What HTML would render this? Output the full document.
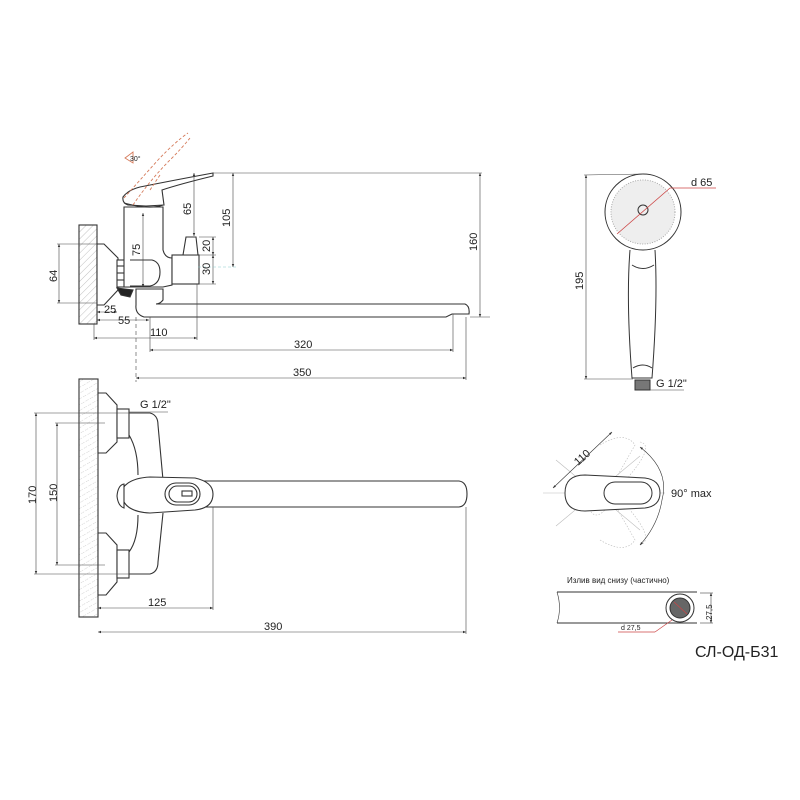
<!DOCTYPE html>
<html><head><meta charset="utf-8"><style>
html,body{margin:0;padding:0;background:#fff}
svg{display:block}
text{font-family:"Liberation Sans","DejaVu Sans",sans-serif;fill:#222}
</style></head><body>
<svg width="800" height="800" viewBox="0 0 800 800" xmlns="http://www.w3.org/2000/svg">
<defs>
<pattern id="h" width="5" height="5" patternUnits="userSpaceOnUse" patternTransform="rotate(45)">
<line x1="0" y1="0" x2="0" y2="5" stroke="#999" stroke-width="0.6"/></pattern>
<pattern id="h2" width="5" height="5" patternUnits="userSpaceOnUse" patternTransform="rotate(60)">
<line x1="0" y1="0" x2="0" y2="5" stroke="#aaa" stroke-width="0.6" stroke-dasharray="1.5 1.5"/></pattern>
<marker id="a" markerWidth="6" markerHeight="6" refX="5" refY="3" orient="auto-start-reverse"><path d="M0,1 L5,3 L0,5z" fill="#333"/></marker>
</defs>
<g stroke="#333" fill="none" stroke-width="1.1">
<!-- SIDE VIEW -->
<rect x="79" y="225" width="18" height="99" fill="url(#h)"/>
<polygon points="97,244 104,244 118,258 118,290 104,305 97,305" fill="#fff"/>
<rect x="117" y="260" width="13" height="27" fill="#fff"/>
<line x1="117" y1="266" x2="130" y2="266"/><line x1="117" y1="273" x2="130" y2="273"/><line x1="117" y1="280" x2="130" y2="280"/>
<polygon points="117,288 133,290 130,297 121,295" fill="#222"/>
<path d="M124,207 L163,207 L163,250 Q165,258 172,258 L172,285 L163,287 L124,287 Z" fill="#fff"/>
<path d="M130,260 L152,260 Q160,262 160,272 Q160,284 150,286 L130,286" fill="#fff"/>
<rect x="172" y="255" width="27" height="29" fill="#fff"/>
<polygon points="186,237 196,237 198,255 183,255" fill="#fff"/>
<path d="M136,289 L163,289 L163,300 Q160,304 156,304 L465,304 Q470,306 469,314 L452,314 L446,317 L144,317 Q135,314 136,305 Z" fill="#fff"/>
<line x1="156" y1="304" x2="465" y2="304"/>
<path d="M123,197 Q128,190 140,187 Q175,180 213,173 L213,176 Q180,184 162,190 L164,205 L146,206 L128,205 Q122,203 123,197 Z" fill="#fff"/>
<path d="M124,203 Q150,210 163,205" />
</g>
<g stroke="#d57a5a" fill="none" stroke-width="0.9" stroke-dasharray="3 2">
<path d="M124,198 Q140,180 158,160 Q175,142 188,133"/>
<path d="M133,205 Q150,180 170,160 Q182,148 190,138"/>
<path d="M150,190 L160,175"/>
<path d="M125,158 L133,152 L133,163 Z" stroke-dasharray="none"/>
</g>
<text x="130" y="161" font-size="7">30°</text>
<g stroke="#444" fill="none" stroke-width="0.6">
<line x1="213" y1="173" x2="482" y2="173"/>
<line x1="57" y1="244" x2="97" y2="244"/><line x1="57" y1="303" x2="97" y2="303"/>
<line x1="59" y1="244" x2="59" y2="303" marker-start="url(#a)" marker-end="url(#a)"/>
<line x1="143" y1="213" x2="143" y2="287" marker-start="url(#a)" marker-end="url(#a)"/>
<line x1="194" y1="173" x2="194" y2="236" marker-start="url(#a)" marker-end="url(#a)"/>
<line x1="233" y1="173" x2="233" y2="267" marker-start="url(#a)" marker-end="url(#a)"/>
<line x1="199" y1="237" x2="216" y2="237"/><line x1="199" y1="255" x2="216" y2="255"/><line x1="199" y1="284" x2="216" y2="284"/>
<line x1="213" y1="237" x2="213" y2="255" marker-start="url(#a)" marker-end="url(#a)"/>
<line x1="213" y1="255" x2="213" y2="284" marker-start="url(#a)" marker-end="url(#a)"/>
<line x1="198" y1="267" x2="236" y2="267" stroke="#8cc" stroke-dasharray="3 2"/>
<line x1="470" y1="317" x2="490" y2="317"/>
<line x1="480" y1="173" x2="480" y2="317" marker-start="url(#a)" marker-end="url(#a)"/>
<line x1="97" y1="312" x2="117" y2="312" marker-start="url(#a)" marker-end="url(#a)"/>
<line x1="97" y1="320" x2="149" y2="320" marker-start="url(#a)" marker-end="url(#a)"/>
<line x1="94" y1="338" x2="197" y2="338" marker-start="url(#a)" marker-end="url(#a)"/>
<line x1="150" y1="350" x2="453" y2="350" marker-start="url(#a)" marker-end="url(#a)"/>
<line x1="136" y1="378" x2="466" y2="378" marker-start="url(#a)" marker-end="url(#a)"/>
<line x1="94" y1="324" x2="94" y2="340"/><line x1="150" y1="317" x2="150" y2="352"/>
<line x1="197" y1="284" x2="197" y2="340"/><line x1="453" y1="314" x2="453" y2="352"/><line x1="466" y1="317" x2="466" y2="380"/>
<line x1="136" y1="317" x2="136" y2="382" stroke-dasharray="4 3"/>
</g>
<g font-size="11">
<text x="0" y="0" transform="translate(57,282) rotate(-90)">64</text>
<text x="0" y="0" transform="translate(140,256) rotate(-90)">75</text>
<text x="0" y="0" transform="translate(191,215) rotate(-90)">65</text>
<text x="0" y="0" transform="translate(230,227) rotate(-90)">105</text>
<text x="0" y="0" transform="translate(210,252) rotate(-90)">20</text>
<text x="0" y="0" transform="translate(210,275) rotate(-90)">30</text>
<text x="0" y="0" transform="translate(477,251) rotate(-90)">160</text>
<text x="104" y="313">25</text><text x="118" y="324">55</text>
<text x="150" y="336">110</text><text x="294" y="348">320</text><text x="293" y="376">350</text>
</g>
<!-- TOP VIEW -->
<g stroke="#333" fill="none" stroke-width="1.1">
<rect x="79" y="379" width="19" height="238" fill="url(#h2)"/>
<polygon points="98,393 106,393 117,405 117,442 106,453 98,453" fill="#fff"/>
<polygon points="98,533 106,533 117,545 117,582 106,595 98,595" fill="#fff"/>
<rect x="117" y="409" width="12" height="29" fill="#fff"/>
<rect x="117" y="550" width="12" height="28" fill="#fff"/>
<path d="M129,413 L150,413 Q158,415 158,425 L163,480"/>
<path d="M129,435 Q138,450 138,475"/>
<path d="M129,574 L150,574 Q158,572 158,562 L163,513"/>
<path d="M129,552 Q138,540 138,515"/>
<path d="M200,481 L459,481 Q467,482 467,494 Q467,506 459,507 L200,507"/>
<path d="M123,488 Q130,478 150,477 L195,478 Q213,482 213,494 Q213,508 195,510 L150,513 Q128,512 123,500 Z" fill="#fff"/>
<path d="M117,496 Q118,485 124,484 L124,508 Q118,506 117,496 Z" fill="#fff"/>
<rect x="165" y="483" width="35" height="22" rx="11" fill="#fff"/>
<rect x="169" y="486" width="28" height="16" rx="8"/>
<rect x="182" y="491" width="10" height="5"/>
</g>
<g stroke="#444" fill="none" stroke-width="0.6">
<line x1="34" y1="413" x2="130" y2="413"/><line x1="34" y1="574" x2="130" y2="574"/>
<line x1="55" y1="423" x2="105" y2="423"/><line x1="55" y1="565" x2="105" y2="565"/>
<line x1="129" y1="412" x2="168" y2="412"/>
<line x1="36" y1="413" x2="36" y2="574" marker-start="url(#a)" marker-end="url(#a)"/>
<line x1="57" y1="423" x2="57" y2="565" marker-start="url(#a)" marker-end="url(#a)"/>
<line x1="98" y1="608" x2="213" y2="608" marker-start="url(#a)" marker-end="url(#a)"/>
<line x1="98" y1="632" x2="466" y2="632" marker-start="url(#a)" marker-end="url(#a)"/>
<line x1="213" y1="507" x2="213" y2="610"/><line x1="466" y1="507" x2="466" y2="634"/>
</g>
<g font-size="11">
<text x="140" y="408">G 1/2"</text>
<text x="0" y="0" transform="translate(36,504) rotate(-90)">170</text>
<text x="0" y="0" transform="translate(57,502) rotate(-90)">150</text>
<text x="148" y="606">125</text><text x="264" y="630">390</text>
</g>
<!-- SHOWER -->
<g stroke="#333" fill="none" stroke-width="1">
<circle cx="643" cy="212" r="38" fill="#fff"/>
<circle cx="643" cy="212" r="32" fill="#eee" stroke="#aaa" stroke-dasharray="1 1.5"/>
<circle cx="643" cy="210" r="5"/>
<path d="M630,250 Q626,300 632,378 L652,378 Q658,300 655,250"/>
<path d="M632,265 Q643,272 654,265"/>
<path d="M633,368 Q643,362 652,368"/>
<rect x="635" y="380" width="15" height="10" fill="#777"/>
</g>
<g stroke="#c44" stroke-width="0.8"><line x1="617" y1="234" x2="670" y2="188"/><line x1="670" y1="188" x2="716" y2="188"/></g>
<g stroke="#444" stroke-width="0.6" fill="none">
<line x1="584" y1="175" x2="643" y2="174"/><line x1="584" y1="379" x2="633" y2="379"/>
<line x1="586" y1="175" x2="586" y2="379" marker-start="url(#a)" marker-end="url(#a)"/>
<line x1="650" y1="390" x2="684" y2="390"/>
</g>
<text x="691" y="186" font-size="11">d 65</text>
<text x="0" y="0" font-size="11" transform="translate(583,290) rotate(-90)">195</text>
<text x="656" y="387" font-size="11">G 1/2"</text>
<!-- rotation -->
<g stroke="#bbb" fill="none" stroke-width="0.6">
<line x1="543" y1="493" x2="665" y2="493"/>
<line x1="556" y1="460" x2="640" y2="530"/><line x1="556" y1="526" x2="640" y2="456"/>
<path d="M640,442 Q655,445 630,475 L605,510 Q595,520 590,510" stroke-dasharray="1.5 1.5"/>
<path d="M600,445 Q625,430 635,445 L615,480" stroke-dasharray="1.5 1.5"/>
<path d="M600,540 Q625,555 635,540 L615,505" stroke-dasharray="1.5 1.5"/>
<path d="M640,545 Q655,540 630,510" stroke-dasharray="1.5 1.5"/>
</g>
<g stroke="#333" fill="none" stroke-width="1">
<path d="M565,493 Q565,475 585,475 L645,478 Q660,480 660,493 Q660,506 645,508 L585,511 Q565,511 565,493 Z" fill="#fff"/>
<rect x="604" y="482" width="48" height="22" rx="11"/>
<path d="M640,447 Q670,470 662,500 Q658,525 640,545" stroke-width="0.6" marker-start="url(#a)" marker-end="url(#a)"/>
<line x1="553" y1="488" x2="612" y2="432" stroke-width="0.6" marker-start="url(#a)" marker-end="url(#a)"/>
</g>
<text x="0" y="0" font-size="11" transform="translate(578,466) rotate(-42)">110</text>
<text x="671" y="497" font-size="11">90° max</text>
<!-- bottom spout -->
<text x="567" y="583" font-size="8">Излив вид снизу (частично)</text>
<g stroke="#333" fill="none" stroke-width="1">
<line x1="557" y1="592" x2="697" y2="592"/><line x1="557" y1="623" x2="697" y2="623"/>
<path d="M557,592 Q562,608 557,623" stroke-width="0.6"/>
<circle cx="680" cy="608" r="14" fill="#fff"/>
<circle cx="680" cy="608" r="10" fill="#666"/>
</g>
<g stroke="#444" stroke-width="0.6"><line x1="700" y1="593" x2="713" y2="593"/><line x1="700" y1="623" x2="713" y2="623"/>
<line x1="711" y1="593" x2="711" y2="623" marker-start="url(#a)" marker-end="url(#a)"/></g>
<g stroke="#c44" stroke-width="0.7"><line x1="672" y1="620" x2="655" y2="632"/><line x1="655" y1="632" x2="618" y2="632"/><line x1="674" y1="602" x2="687" y2="614"/></g>
<text x="621" y="630" font-size="7">d 27,5</text>
<text x="0" y="0" font-size="8" transform="translate(712,620) rotate(-90)">27,5</text>
<text x="695" y="657" font-size="16" font-family="Liberation Sans, DejaVu Sans, sans-serif">СЛ-ОД-Б31</text>
</svg>
</body></html>
